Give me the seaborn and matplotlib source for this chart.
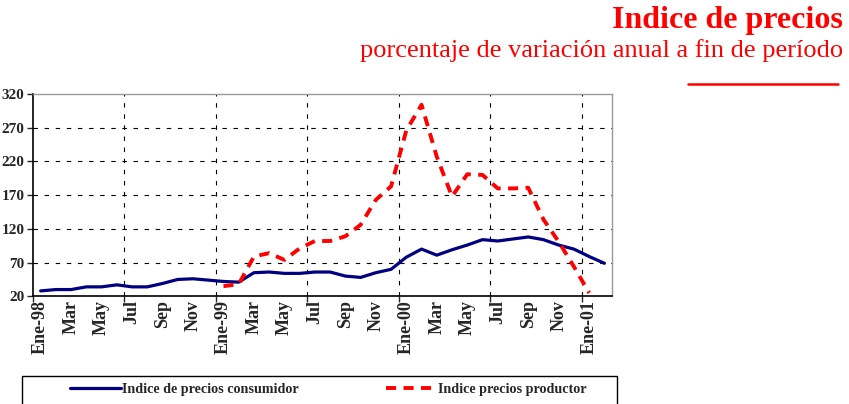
import numpy as np
import pandas as pd
import matplotlib
matplotlib.use("Agg")
import matplotlib.pyplot as plt
import seaborn as sns
from matplotlib.lines import Line2D
from matplotlib.patches import Rectangle

months = ["Ene-98", "Feb", "Mar", "Abr", "May", "Jun", "Jul", "Ago", "Sep", "Oct", "Nov", "Dic",
          "Ene-99", "Feb", "Mar", "Abr", "May", "Jun", "Jul", "Ago", "Sep", "Oct", "Nov", "Dic",
          "Ene-00", "Feb", "Mar", "Abr", "May", "Jun", "Jul", "Ago", "Sep", "Oct", "Nov", "Dic",
          "Ene-01", "Feb"]
cpi = [28, 30, 30, 34, 34, 37, 34, 34, 39, 45, 46, 44,
       42, 41, 55, 56, 54, 54, 56, 56, 50, 48, 55, 60,
       78, 90, 81, 89, 96, 104, 102, 105, 108, 104, 96, 90,
       79, 69]
ppi = [np.nan] * 12 + [35, 38, 79, 84, 74, 91, 102, 102, 109, 126, 163, 183,
                       266, 304, 227, 168, 201, 200, 180, 180, 181, 134, 101, 64,
                       25, np.nan]
yticks = [20, 70, 120, 170, 220, 270, 320]
legend_labels = ["Indice de precios consumidor", "Indice precios productor"]
title = "Indice de precios"
subtitle = "porcentaje de variación anual a fin de período"

df = pd.DataFrame({"idx": np.arange(len(months)), "cpi": cpi, "ppi": ppi})

sns.set_style("white")
plt.rcParams["font.family"] = ["Liberation Serif", "DejaVu Serif"]

W, H = 849, 404
fig = plt.figure(figsize=(W / 100, H / 100), dpi=100)
ax = fig.add_axes([33 / W, 1 - 296.3 / H, (612 - 33) / W, (296.3 - 94) / H])

DASH = (2.6, 1.9)
sns.lineplot(data=df, x="idx", y="cpi", ax=ax, color="#000080", linewidth=2.3)
sns.lineplot(data=df, x="idx", y="ppi", ax=ax, color="#ff0000", linewidth=2.8)
ax.lines[1].set_dashes(DASH)

ax.set_xlim(-0.5, len(months) - 0.5)
ax.set_ylim(20, 320)
ax.set_xlabel("")
ax.set_ylabel("")

ax.set_yticks(yticks)
ax.set_yticklabels([str(v) for v in yticks], fontsize=11, fontweight="bold")
ax.tick_params(axis="y", length=4, width=1, direction="out", left=True, pad=2)
for v in yticks[1:-1]:
    ax.axhline(v, color="black", lw=0.8, ls=(0, (4, 6)), zorder=0)

bounds = np.arange(-0.5, len(months), 6)
ax.set_xticks(bounds, minor=True)
ax.tick_params(axis="x", which="minor", length=4, width=1, direction="out", bottom=True)
for b in bounds[1:]:
    ax.axvline(b, color="black", lw=0.8, ls=(0, (4, 6)), zorder=0)

lab_pos = np.arange(0, len(months), 2)
ax.set_xticks(lab_pos)
ax.set_xticklabels([months[i] for i in lab_pos], rotation=90, fontsize=13, fontweight="bold")
ax.tick_params(axis="x", which="major", length=0, pad=3)

for s in ["top", "right"]:
    ax.spines[s].set_color("#999999")
    ax.spines[s].set_linewidth(1)
for s in ["left", "bottom"]:
    ax.spines[s].set_color("black")
    ax.spines[s].set_linewidth(1.2)

# legend box (extends beyond bottom edge as in the reference)
fig.add_artist(Rectangle((22 / W, 1 - 420 / H), 595 / W, 44 / H, transform=fig.transFigure,
                         facecolor="white", edgecolor="black", lw=1))
handles = [Line2D([], [], color="#000080", lw=2.3),
           Line2D([], [], color="#ff0000", lw=2.8, dashes=DASH)]
leg = fig.legend(handles, legend_labels, loc="upper left",
                 bbox_to_anchor=(70 / W, 1 - 383 / H), ncol=2, frameon=False,
                 handlelength=3.6, borderpad=0, borderaxespad=0,
                 prop={"family": "Liberation Serif", "weight": "bold", "size": 10.2},
                 handletextpad=0.05, columnspacing=6.2)

fig.text(843 / W, 1 - 28 / H, title, ha="right", va="baseline",
         fontsize=23, fontweight="bold", color="#ff0000")
fig.text(843 / W, 1 - 57 / H, subtitle, ha="right", va="baseline",
         fontsize=19, color="#ff0000")
fig.add_artist(Line2D([688 / W, 838 / W], [1 - 84 / H, 1 - 84 / H],
                      color="#ff0000", lw=1.8, transform=fig.transFigure))

fig.savefig("out.png", dpi=100)
